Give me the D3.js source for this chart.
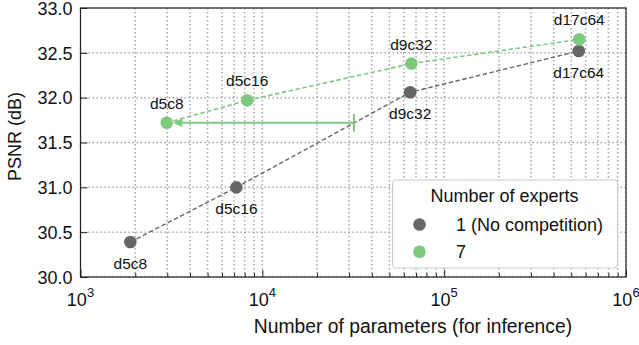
<!DOCTYPE html>
<html><head><meta charset="utf-8">
<script src="https://cdn.jsdelivr.net/npm/d3@7"></script>
<style>body{margin:0;background:#fff}svg{display:block;font-family:"Liberation Sans",Arial,sans-serif}</style>
</head><body><svg id="c" width="639" height="345"></svg>
<script>
const configs = ["d5c8","d5c16","d9c32","d17c64"];
const params1 = [1880, 7200, 65000, 550000];
const psnr1 = [30.39, 31.00, 32.06, 32.52];
const params7 = [2980, 8250, 66000, 553000];
const psnr7 = [31.72, 31.97, 32.38, 32.65];
const seriesNames = ["1 (No competition)", "7"];
const seriesColors = ["#666666", "#7fc97f"];
const arrowFrom = 31900;
const yTicks = [30.0, 30.5, 31.0, 31.5, 32.0, 32.5, 33.0];
const xMajor = [1e3, 1e4, 1e5, 1e6];

const svg = d3.select("#c");
const L = 80.5, R = 626, T = 8, B = 277;
const x = d3.scaleLog().domain([1e3, 1e6]).range([L, R]);
const y = d3.scaleLinear().domain([30, 33]).range([B, T]);

const xMinor = [];
for (let e = 3; e < 6; e++) for (let m = 2; m <= 9; m++) xMinor.push(m * Math.pow(10, e));

const grid = svg.append("g").attr("stroke", "#a6a6a6").attr("stroke-width", 1.5).attr("stroke-dasharray", "1.5,2.5");
xMajor.concat(xMinor).forEach(v => {
  grid.append("line").attr("x1", x(v)).attr("x2", x(v)).attr("y1", T).attr("y2", B);
});
yTicks.forEach(v => {
  grid.append("line").attr("x1", L).attr("x2", R).attr("y1", y(v)).attr("y2", y(v));
});

// axes via d3 axis (inward ticks)
const xAxisMajor = d3.axisBottom(x).tickValues(xMajor).tickSize(-7).tickFormat("");
const xAxisMinor = d3.axisBottom(x).tickValues(xMinor).tickSize(-4).tickFormat("");
const gx = svg.append("g").attr("transform", `translate(0,${B})`);
gx.call(xAxisMajor); gx.select(".domain").remove();
const gx2 = svg.append("g").attr("transform", `translate(0,${B})`);
gx2.call(xAxisMinor); gx2.select(".domain").remove();
svg.selectAll(".tick line").attr("stroke", "#222").attr("stroke-width", 1);

const yAxis = d3.axisLeft(y).tickValues(yTicks).tickSize(-7).tickPadding(8).tickFormat(d3.format(".1f"));
const gy = svg.append("g").attr("transform", `translate(${L},0)`).call(yAxis);
gy.select(".domain").remove();
gy.selectAll("text").attr("font-size", 18).attr("fill", "#111").attr("font-family", "Liberation Sans, Arial, sans-serif").attr("dy", "0.35em");
gy.selectAll(".tick line").attr("stroke", "#222");

// x tick labels with superscripts
xMajor.forEach(v => {
  const t = svg.append("text").attr("x", x(v)).attr("y", 306).attr("text-anchor", "middle")
    .attr("font-size", 18).attr("fill", "#111");
  t.append("tspan").text("10");
  t.append("tspan").attr("dy", -9).attr("font-size", 13).text(Math.round(Math.log10(v)));
});

// spines
svg.append("rect").attr("x", L).attr("y", T).attr("width", R - L).attr("height", B - T)
  .attr("fill", "none").attr("stroke", "#222").attr("stroke-width", 1.2);

// axis labels
svg.append("text").attr("x", 413).attr("y", 333).attr("text-anchor", "middle")
  .attr("font-size", 19.3).attr("fill", "#111").text("Number of parameters (for inference)");
svg.append("text").attr("transform", `translate(21,136.5) rotate(-90)`).attr("text-anchor", "middle")
  .attr("font-size", 18).attr("fill", "#111").text("PSNR (dB)");

// lines
const line = d3.line().x(d => x(d[0])).y(d => y(d[1]));
const s1 = params1.map((p, i) => [p, psnr1[i]]);
const s7 = params7.map((p, i) => [p, psnr7[i]]);
svg.append("path").datum(s1).attr("d", line).attr("fill", "none").attr("stroke", seriesColors[0])
  .attr("stroke-width", 1.4).attr("stroke-dasharray", "4.5,2.5");
svg.append("path").datum(s7).attr("d", line).attr("fill", "none").attr("stroke", seriesColors[1])
  .attr("stroke-width", 1.6).attr("stroke-dasharray", "4.5,2.5");

// arrow
const ay = y(psnr7[0]);
const tipX = x(params7[0]) + 6.5;
svg.append("line").attr("x1", x(arrowFrom)).attr("x2", tipX + 8).attr("y1", ay).attr("y2", ay)
  .attr("stroke", seriesColors[1]).attr("stroke-width", 2);
svg.append("line").attr("x1", x(arrowFrom)).attr("x2", x(arrowFrom)).attr("y1", ay - 9).attr("y2", ay + 9)
  .attr("stroke", seriesColors[1]).attr("stroke-width", 2);
svg.append("path").attr("d", `M${tipX},${ay} L${tipX + 9},${ay - 4.5} L${tipX + 9},${ay + 4.5} Z`)
  .attr("fill", seriesColors[1]);

// markers
svg.selectAll(".m1").data(s1).join("circle").attr("cx", d => x(d[0])).attr("cy", d => y(d[1]))
  .attr("r", 6.3).attr("fill", seriesColors[0]);
svg.selectAll(".m7").data(s7).join("circle").attr("cx", d => x(d[0])).attr("cy", d => y(d[1]))
  .attr("r", 6.3).attr("fill", seriesColors[1]);

// labels
s1.forEach((d, i) => {
  svg.append("text").attr("x", x(d[0])).attr("y", y(d[1]) + 27).attr("text-anchor", "middle")
    .attr("font-size", 15.5).attr("fill", "#111").text(configs[i]);
});
s7.forEach((d, i) => {
  svg.append("text").attr("x", x(d[0])).attr("y", y(d[1]) - 14).attr("text-anchor", "middle")
    .attr("font-size", 15.5).attr("fill", "#111").text(configs[i]);
});

// legend
const lg = svg.append("g");
lg.append("rect").attr("x", 392.5).attr("y", 180).attr("width", 225).attr("height", 88).attr("rx", 4)
  .attr("fill", "#fff").attr("fill-opacity", 0.92).attr("stroke", "#cccccc").attr("stroke-width", 1.2);
lg.append("text").attr("x", 504.5).attr("y", 202).attr("text-anchor", "middle").attr("font-size", 18)
  .attr("fill", "#111").text("Number of experts");
seriesNames.forEach((n, i) => {
  const cy = 224.5 + i * 27.3;
  lg.append("circle").attr("cx", 419.5).attr("cy", cy).attr("r", 6.3).attr("fill", seriesColors[i]);
  lg.append("text").attr("x", 456).attr("y", cy + 6.5).attr("font-size", 18).attr("fill", "#111").text(n);
});
</script></body></html>
